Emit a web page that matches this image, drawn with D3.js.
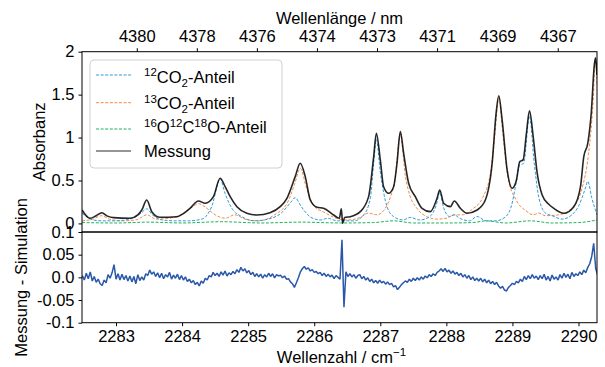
<!DOCTYPE html>
<html>
<head>
<meta charset="utf-8">
<script src="https://cdn.jsdelivr.net/npm/d3@7"></script>
<style>
  body { margin: 0; background: #fff; }
  svg text { font-family: "Liberation Sans", Arial, sans-serif; fill: #000; }
</style>
</head>
<body>
<div id="chart"></div>
<script>
// wavenumber / absorbance pairs
const messung = [
  [2282.485, 0.156], [2282.606, 0.06], [2282.70, 0.09], [2282.784, 0.125], [2282.87, 0.085], [2282.96, 0.067],
  [2283.21, 0.06], [2283.33, 0.1], [2283.39, 0.156], [2283.465, 0.273], [2283.541, 0.137], [2283.667, 0.071],
  [2283.92, 0.078], [2284.03, 0.12], [2284.12, 0.176], [2284.247, 0.261], [2284.35, 0.235], [2284.474, 0.312],
  [2284.576, 0.526], [2284.652, 0.428], [2284.728, 0.312], [2284.83, 0.195], [2284.98, 0.118], [2285.132, 0.098],
  [2285.33, 0.125], [2285.485, 0.195], [2285.587, 0.293], [2285.712, 0.545], [2285.788, 0.701], [2285.864, 0.545],
  [2285.94, 0.273], [2286.041, 0.188], [2286.141, 0.176], [2286.293, 0.098], [2286.38, 0.06], [2286.41, 0.17],
  [2286.43, 0.0], [2286.46, 0.07], [2286.545, 0.078], [2286.697, 0.137], [2286.823, 0.312], [2286.9, 0.778],
  [2286.94, 1.051], [2287.0, 0.74], [2287.05, 0.428], [2287.126, 0.351], [2287.202, 0.428], [2287.253, 0.701],
  [2287.303, 1.07], [2287.353, 0.818], [2287.429, 0.468], [2287.53, 0.312], [2287.632, 0.176], [2287.757, 0.137],
  [2287.859, 0.293], [2287.9, 0.39], [2287.959, 0.235], [2288.061, 0.195], [2288.12, 0.261], [2288.212, 0.176],
  [2288.314, 0.118], [2288.465, 0.156], [2288.59, 0.273], [2288.693, 0.701], [2288.753, 1.285], [2288.793, 1.487],
  [2288.844, 1.207], [2288.92, 0.623], [2288.996, 0.41], [2289.061, 0.506], [2289.111, 0.72], [2289.162, 0.74],
  [2289.212, 1.051], [2289.258, 1.312], [2289.314, 1.012], [2289.375, 0.585], [2289.45, 0.331], [2289.55, 0.223],
  [2289.626, 0.176], [2289.777, 0.118], [2289.929, 0.195], [2290.03, 0.428], [2290.08, 0.778], [2290.141, 0.935],
  [2290.193, 1.285], [2290.24, 1.85], [2290.258, 1.93], [2290.28, 1.73]
];

const co2_12 = [
  [2282.485, 0.12], [2282.65, 0.04], [2282.8, 0.03], [2283.0, 0.03], [2283.25, 0.06], [2283.38, 0.12],
  [2283.465, 0.17], [2283.55, 0.1], [2283.7, 0.04], [2283.9, 0.03], [2284.1, 0.03], [2284.3, 0.05],
  [2284.45, 0.2], [2284.576, 0.52], [2284.65, 0.35], [2284.75, 0.18], [2284.9, 0.08], [2285.1, 0.03],
  [2285.3, 0.05], [2285.5, 0.12], [2285.65, 0.25], [2285.71, 0.3], [2285.8, 0.2], [2285.95, 0.07],
  [2286.1, 0.04], [2286.2, 0.06], [2286.35, 0.03], [2286.6, 0.03], [2286.75, 0.1], [2286.85, 0.3],
  [2286.9, 0.7], [2286.94, 0.98], [2287.0, 0.6], [2287.1, 0.2], [2287.2, 0.08], [2287.35, 0.04],
  [2287.45, 0.07], [2287.6, 0.04], [2287.75, 0.08], [2287.85, 0.22], [2287.9, 0.36], [2287.96, 0.18],
  [2288.05, 0.08], [2288.12, 0.1], [2288.2, 0.06], [2288.35, 0.03], [2288.465, 0.08], [2288.6, 0.03],
  [2288.75, 0.03], [2288.9, 0.08], [2289.0, 0.25], [2289.05, 0.45], [2289.11, 0.68], [2289.17, 0.7],
  [2289.258, 1.25], [2289.33, 0.7], [2289.4, 0.3], [2289.5, 0.12], [2289.6, 0.09], [2289.75, 0.05],
  [2289.9, 0.1], [2290.0, 0.2], [2290.1, 0.4], [2290.14, 0.49], [2290.2, 0.3], [2290.28, 0.1]
];

const co2_13 = [
  [2282.485, 0.03], [2282.65, 0.05], [2282.78, 0.09], [2282.9, 0.05], [2283.1, 0.03], [2283.3, 0.04],
  [2283.47, 0.1], [2283.6, 0.05], [2283.8, 0.06], [2284.0, 0.11], [2284.15, 0.19], [2284.25, 0.23],
  [2284.35, 0.19], [2284.5, 0.1], [2284.65, 0.06], [2284.8, 0.1], [2284.95, 0.05], [2285.15, 0.03],
  [2285.4, 0.1], [2285.6, 0.25], [2285.7, 0.45], [2285.79, 0.64], [2285.88, 0.42], [2286.0, 0.2],
  [2286.15, 0.13], [2286.3, 0.07], [2286.5, 0.04], [2286.7, 0.07], [2286.82, 0.12], [2286.95, 0.1],
  [2287.05, 0.15], [2287.15, 0.3], [2287.22, 0.5], [2287.303, 1.04], [2287.38, 0.55], [2287.45, 0.32],
  [2287.55, 0.18], [2287.7, 0.08], [2287.85, 0.05], [2288.0, 0.06], [2288.12, 0.1], [2288.25, 0.1],
  [2288.4, 0.17], [2288.55, 0.3], [2288.67, 0.6], [2288.73, 1.0], [2288.793, 1.46], [2288.86, 1.0],
  [2288.93, 0.55], [2289.05, 0.28], [2289.2, 0.15], [2289.32, 0.1], [2289.4, 0.12], [2289.5, 0.09],
  [2289.7, 0.1], [2289.9, 0.18], [2290.05, 0.4], [2290.15, 0.8], [2290.22, 1.4], [2290.258, 1.92],
  [2290.28, 1.6]
];

const co18 = [
  [2282.485, 0.01], [2283.0, 0.005], [2283.5, 0.015], [2284.0, 0.005], [2284.6, 0.02], [2285.2, 0.005],
  [2285.8, 0.015], [2286.4, 0.005], [2286.9, 0.01], [2287.2, 0.03], [2287.5, 0.005], [2288.0, 0.005],
  [2288.4, 0.01], [2288.6, 0.03], [2288.9, 0.005], [2289.27, 0.03], [2289.6, 0.005], [2290.0, 0.01],
  [2290.28, 0.04]
];

// residual (Messung - Simulation), sampled every 0.03 cm-1
const resStart = 2282.49;
const resStep = 0.03;
const residual = [
  0.004, -0.006, 0.009, -0.003, 0.012, -0.008, 0.002, -0.011, -0.004, -0.014,
  -0.018, -0.006, -0.012, 0.006, -0.002, 0.01, 0.028, -0.004, 0.008, -0.006,
  0.007, -0.005, 0.004, -0.008, 0.003, -0.01, 0.002, -0.014, 0.006, -0.007,
  0.001, -0.006, 0.008, 0.004, 0.016, 0.007, 0.012, 0.002, 0.01, -0.001,
  0.009, -0.003, 0.006, 0.001, 0.011, -0.004, 0.005, -0.002, 0.007, -0.005,
  0.004, -0.006, 0.001, -0.009, -0.004, -0.012, -0.007, -0.016, -0.011, -0.019,
  -0.008, -0.013, -0.002, -0.006, 0.004, 0.001, 0.011, 0.004, 0.009, 0.002,
  0.012, 0.005, 0.014, 0.003, 0.01, 0.006, 0.013, 0.008, 0.017, 0.011,
  0.022, 0.014, 0.019, 0.01, 0.015, 0.006, 0.011, 0.002, 0.008, 0.001,
  0.007, -0.002, 0.006, 0.001, 0.009, 0.002, 0.008, -0.001, 0.006, 0.003,
  0.005, -0.001, 0.003, -0.004, -0.003, -0.01, -0.014, -0.022, -0.012, -0.001,
  0.012, 0.019, 0.024, 0.018, 0.021, 0.014, 0.017, 0.011, 0.013, 0.008,
  0.011, 0.004, 0.009, 0.002, 0.007, 0.001, 0.005, -0.003, 0.004, 0.0,
  -0.004, 0.083, -0.066, 0.012, 0.002, 0.008, 0.001, 0.006, -0.002, 0.004,
  0.006, -0.003, 0.002, -0.006, -0.001, -0.009, -0.004, -0.012, -0.007, -0.013,
  -0.006, -0.012, -0.009, -0.015, -0.01, -0.016, -0.013, -0.021, -0.018, -0.027,
  -0.022, -0.016, -0.012, -0.008, -0.011, -0.004, -0.009, -0.002, -0.007, -0.001,
  -0.006, 0.001, -0.004, 0.003, -0.001, 0.006, 0.002, 0.008, 0.004, 0.011,
  0.014, 0.019, 0.013, 0.02, 0.012, 0.016, 0.009, 0.014, 0.007, 0.011,
  0.004, 0.009, 0.001, 0.006, -0.002, 0.004, -0.005, 0.001, -0.007, -0.002,
  -0.008, -0.002, -0.01, -0.004, -0.012, -0.006, -0.014, -0.009, -0.016, -0.011,
  -0.019, -0.024, -0.02, -0.028, -0.03, -0.022, -0.018, -0.013, -0.016, -0.009,
  -0.012, -0.004, -0.009, 0.002, -0.005, 0.004, -0.003, 0.006, -0.002, 0.003,
  -0.005, 0.004, -0.003, 0.007, -0.006, 0.002, -0.008, 0.005, -0.004, 0.001,
  -0.006, 0.006, -0.002, 0.009, 0.0, 0.007, -0.003, 0.011, 0.002, 0.008,
  0.004, 0.012, 0.006, 0.016, 0.01, 0.022, 0.03, 0.046, 0.075, 0.02,
  0.005
];

// axis ticks
const xTicks = [2283, 2284, 2285, 2286, 2287, 2288, 2289, 2290];
const topTickPos = [2283.314, 2284.223, 2285.132, 2286.041, 2286.95, 2287.859, 2288.777, 2289.686];
const topTickLabels = ['4380', '4378', '4376', '4374', '4373', '4371', '4369', '4367'];
const yTopTicks = [0, 0.5, 1, 1.5, 2];
const yTopLabels = ['0', '0.5', '1', '1.5', '2'];
const yBotTicks = [-0.1, -0.05, 0, 0.05, 0.1];
const yBotLabels = ['-0.1', '-0.05', '0.0', '0.05', '0.1'];

const width = 605, height = 367;
const L = 82, R = 597, T = 51.7, M = 232, B = 322.7;
const fs = 16.5;

const svg = d3.select('#chart')
  .append('svg')
  .attr('width', width)
  .attr('height', height);

const x = d3.scaleLinear().domain([2282.485, 2290.28]).range([L, R]);
const yTop = d3.scaleLinear().domain([-0.1, 2]).range([M, T]);
const yBot = d3.scaleLinear().domain([-0.1, 0.1]).range([B, M]);

const defs = svg.append('defs');
defs.append('clipPath').attr('id', 'clipTop')
  .append('rect').attr('x', L).attr('y', T).attr('width', R - L).attr('height', M - T);
defs.append('clipPath').attr('id', 'clipBot')
  .append('rect').attr('x', L).attr('y', M).attr('width', R - L).attr('height', B - M);

// spectra
const lineTop = d3.line().x(d => x(d[0])).y(d => yTop(d[1])).curve(d3.curveMonotoneX);
const gTop = svg.append('g').attr('clip-path', 'url(#clipTop)');

const series = [
  { data: co18, color: '#20b25a', dash: '3,1.6', width: 1 },
  { data: co2_13, color: '#f28a4c', dash: '3,1.6', width: 1 },
  { data: co2_12, color: '#2e9bd6', dash: '3,1.6', width: 1 },
];
series.forEach(s => {
  gTop.append('path')
    .datum(s.data)
    .attr('d', lineTop)
    .attr('fill', 'none')
    .attr('stroke', s.color)
    .attr('stroke-width', s.width)
    .attr('stroke-dasharray', s.dash);
});

gTop.append('path')
  .datum(messung)
  .attr('d', lineTop)
  .attr('fill', 'none')
  .attr('stroke', '#000')
  .attr('stroke-opacity', 0.85)
  .attr('stroke-width', 1.6);

// residual
const lineBot = d3.line()
  .x((d, i) => x(resStart + i * resStep))
  .y(d => yBot(d));
svg.append('g').attr('clip-path', 'url(#clipBot)')
  .append('path')
  .datum(residual)
  .attr('d', lineBot)
  .attr('fill', 'none')
  .attr('stroke', '#2a58a8')
  .attr('stroke-width', 1.5)
  .attr('stroke-linejoin', 'bevel');

// axes
function styleAxis(g) {
  g.select('.domain').remove();
  g.selectAll('line').attr('stroke', '#000');
  g.selectAll('text').style('font-size', fs + 'px').attr('fill', '#000');
}

svg.append('g')
  .attr('transform', 'translate(0,' + B + ')')
  .call(d3.axisBottom(x).tickValues(xTicks).tickFormat(d3.format('d')).tickSize(3.5).tickPadding(4.5))
  .call(styleAxis);

svg.append('g')
  .attr('transform', 'translate(0,' + T + ')')
  .call(d3.axisTop(x).tickValues(topTickPos).tickFormat((d, i) => topTickLabels[i]).tickSize(3.5).tickPadding(6.5))
  .call(styleAxis);

svg.append('g')
  .attr('transform', 'translate(' + L + ',0)')
  .call(d3.axisLeft(yTop).tickValues(yTopTicks).tickFormat((d, i) => yTopLabels[i]).tickSize(3.5).tickPadding(4))
  .call(styleAxis);

svg.append('g')
  .attr('transform', 'translate(' + L + ',0)')
  .call(d3.axisLeft(yBot).tickValues(yBotTicks).tickFormat((d, i) => yBotLabels[i]).tickSize(3.5).tickPadding(4))
  .call(styleAxis);

// frames
[[T, M], [M, B]].forEach(([a, b]) => {
  svg.append('rect')
    .attr('x', L).attr('y', a)
    .attr('width', R - L).attr('height', b - a)
    .attr('fill', 'none')
    .attr('stroke', '#000')
    .attr('stroke-width', 1);
});

// axis titles
svg.append('text')
  .attr('x', (L + R) / 2).attr('y', 23.5)
  .attr('text-anchor', 'middle')
  .style('font-size', fs + 'px')
  .text('Wellenlänge / nm');

const xt = svg.append('text')
  .attr('x', (L + R) / 2 + 2).attr('y', 363)
  .attr('text-anchor', 'middle')
  .style('font-size', fs + 'px');
xt.append('tspan').text('Wellenzahl / cm');
xt.append('tspan').attr('dy', -7).style('font-size', '11.5px').text('\u22121');

svg.append('text')
  .attr('transform', 'translate(45,' + (T + M) / 2 + ') rotate(-90)')
  .attr('text-anchor', 'middle')
  .style('font-size', fs + 'px')
  .text('Absorbanz');

svg.append('text')
  .attr('transform', 'translate(27,' + (M + B) / 2 + ') rotate(-90)')
  .attr('text-anchor', 'middle')
  .style('font-size', fs + 'px')
  .text('Messung - Simulation');

// legend
const legend = svg.append('g');
legend.append('rect')
  .attr('x', 90).attr('y', 60)
  .attr('width', 192).attr('height', 108)
  .attr('rx', 4)
  .attr('fill', '#fff').attr('fill-opacity', 0.8)
  .attr('stroke', '#d0d0d0');

const legendRows = [
  { y: 75, base: 82.5, color: '#2e9bd6', dash: '3,1.6', w: 1, op: 1,
    parts: [['12', 'sup'], ['CO', ''], ['2', 'sub'], ['-Anteil', '']] },
  { y: 102.7, base: 109.3, color: '#f28a4c', dash: '3,1.6', w: 1, op: 1,
    parts: [['13', 'sup'], ['CO', ''], ['2', 'sub'], ['-Anteil', '']] },
  { y: 129, base: 133.3, color: '#20b25a', dash: '3,1.6', w: 1, op: 1,
    parts: [['16', 'sup'], ['O', ''], ['12', 'sup'], ['C', ''], ['18', 'sup'], ['O-Anteil', '']] },
  { y: 151, base: 156.5, color: '#000', dash: null, w: 1.5, op: 0.55,
    parts: [['Messung', '']] },
];

legendRows.forEach(r => {
  legend.append('line')
    .attr('x1', 96).attr('x2', 131)
    .attr('y1', r.y).attr('y2', r.y)
    .attr('stroke', r.color)
    .attr('stroke-opacity', r.op)
    .attr('stroke-width', r.w)
    .attr('stroke-dasharray', r.dash);
  const t = legend.append('text').attr('x', 144).attr('y', r.base).style('font-size', fs + 'px');
  let shift = 0;
  r.parts.forEach(([s, kind]) => {
    const target = kind === 'sup' ? -6.5 : kind === 'sub' ? 4 : 0;
    t.append('tspan')
      .attr('dy', target - shift)
      .style('font-size', kind ? '11.5px' : fs + 'px')
      .text(s);
    shift = target;
  });
});
</script>
</body>
</html>
